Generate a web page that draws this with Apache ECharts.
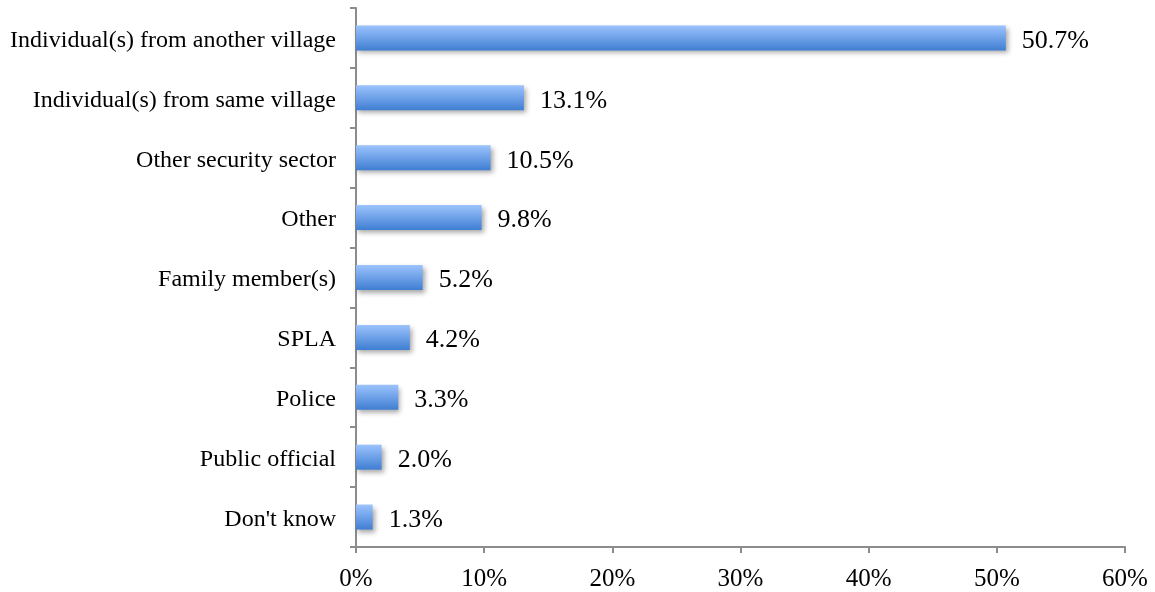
<!DOCTYPE html>
<html>
<head>
<meta charset="utf-8">
<script src="https://cdn.jsdelivr.net/npm/echarts@6/dist/echarts.min.js"></script>
<style>
  html, body { margin: 0; padding: 0; background: #fff; }
  #chart { width: 1155px; height: 592px; }
</style>
</head>
<body>
<div id="chart"></div>
<script>
// Who the respondents named, share of answers (%)
const categories = [
  "Individual(s) from another village",
  "Individual(s) from same village",
  "Other security sector",
  "Other",
  "Family member(s)",
  "SPLA",
  "Police",
  "Public official",
  "Don't know"
];
const shares = [50.7, 13.1, 10.5, 9.8, 5.2, 4.2, 3.3, 2.0, 1.3];
const axisMax = 60;
const axisStep = 10;

const serif = "'Liberation Serif', 'Times New Roman', serif";
const axisGray = '#8c8c8c';

const chart = echarts.init(document.getElementById('chart'), null, { renderer: 'canvas' });
chart.setOption({
  animation: false,
  grid: { left: 356, right: 30, top: 8, bottom: 44, containLabel: false },
  xAxis: {
    type: 'value',
    min: 0,
    max: axisMax,
    interval: axisStep,
    axisLine: { show: true, lineStyle: { color: axisGray, width: 2 } },
    axisTick: { show: true, length: 6, lineStyle: { color: axisGray, width: 2 } },
    splitLine: { show: false },
    axisLabel: {
      formatter: v => v + '%',
      fontFamily: serif,
      fontSize: 25,
      color: '#000',
      margin: 20
    }
  },
  yAxis: {
    type: 'category',
    data: categories,
    inverse: true,
    axisLine: { show: true, lineStyle: { color: axisGray, width: 2 } },
    axisTick: { show: true, length: 6, lineStyle: { color: axisGray, width: 2 } },
    axisLabel: {
      fontFamily: serif,
      fontSize: 24,
      color: '#000',
      margin: 20,
      formatter: v => '{c|' + v + '}',
      rich: {
        c: { fontFamily: serif, fontSize: 24, color: '#000', padding: [5, 0, 0, 0] }
      }
    }
  },
  series: [{
    type: 'bar',
    data: shares,
    barWidth: 25,
    itemStyle: {
      color: new echarts.graphic.LinearGradient(0, 0, 0, 1, [
        { offset: 0, color: '#9cc3fd' },
        { offset: 1, color: '#3f7ed2' }
      ]),
      shadowColor: 'rgba(0,0,0,0.35)',
      shadowBlur: 5,
      shadowOffsetX: 2,
      shadowOffsetY: 3
    },
    label: {
      show: true,
      position: 'right',
      distance: 16,
      offset: [0, 3],
      formatter: p => p.value.toFixed(1) + '%',
      fontFamily: serif,
      fontSize: 26,
      color: '#000'
    }
  }]
});
</script>
</body>
</html>
